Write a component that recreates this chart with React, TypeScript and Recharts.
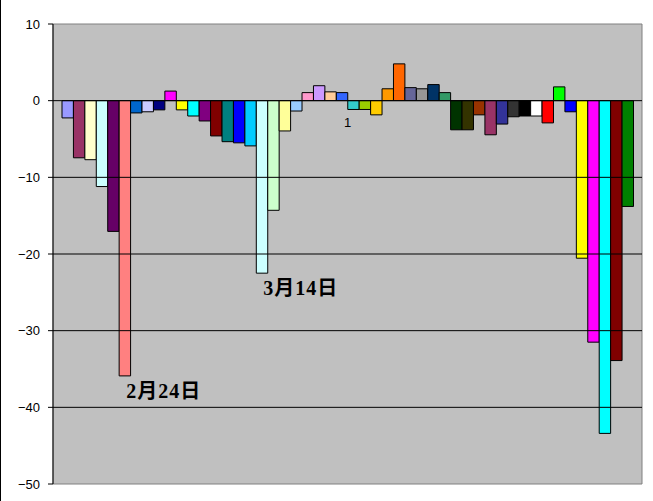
import React from "react";
import {
  BarChart,
  Bar,
  YAxis,
  XAxis,
  CartesianGrid,
  ReferenceLine,
  ReferenceArea,
  LabelList,
} from "recharts";

// one category, 50 series (one bar each)
const categories = ["1"];

const seriesValues = [
  -2.25, -7.45, -7.7, -11.2, -17.05, -35.9, -1.6, -1.45, -1.2, 1.25,
  -1.2, -2.0, -2.65, -4.6, -5.35, -5.5, -5.9, -22.5, -14.3, -3.95,
  -1.35, 1.05, 1.95, 1.15, 1.05, -1.15, -1.15, -1.85, 1.55, 4.8,
  1.7, 1.55, 2.1, 1.05, -3.8, -3.8, -1.85, -4.45, -3.05, -2.1,
  -2.0, -2.0, -2.9, 1.8, -1.45, -20.55, -31.5, -43.4, -33.9, -13.8,
];

const seriesColors = [
  "#9999FF", "#993366", "#FFFFCC", "#CCFFFF", "#660066", "#FF8080", "#0066CC", "#CCCCFF", "#000080", "#FF00FF",
  "#FFFF00", "#00FFFF", "#800080", "#800000", "#008080", "#0000FF", "#00CCFF", "#CCFFFF", "#CCFFCC", "#FFFF99",
  "#99CCFF", "#FF99CC", "#CC99FF", "#FFCC99", "#3366FF", "#33CCCC", "#99CC00", "#FFCC00", "#FF9900", "#FF6600",
  "#666699", "#969696", "#003366", "#339966", "#003300", "#333300", "#993300", "#993366", "#333399", "#333333",
  "#000000", "#FFFFFF", "#FF0000", "#00FF00", "#0000FF", "#FFFF00", "#FF00FF", "#00FFFF", "#800000", "#008000",
];

const yTicks = [10, 0, -10, -20, -30, -40, -50];
const gridValues = [0, -10, -20, -30, -40];

// date notes under the two big drops
const notes: { [k: number]: string } = { 5: "2月24日", 17: "3月14日" };

const data = categories.map((name) => {
  const row: any = { name };
  seriesValues.forEach((v, i) => {
    row[`s${i + 1}`] = v;
  });
  return row;
});

const NoteLabel = (text: string) => (props: any) => {
  const { x, y, height } = props;
  const bottom = Math.max(y, y + height);
  return (
    <text
      x={x + 7}
      y={bottom + 22}
      fill="#000"
      fontSize={20}
      fontWeight="bold"
      letterSpacing={1}
      fontFamily="'Liberation Serif', 'Noto Sans CJK JP', serif"
    >
      {text}
    </text>
  );
};

export default function App() {
  return (
    <div
      style={{
        position: "absolute",
        left: 0,
        top: 0,
        width: 653,
        height: 501,
        background: "#fff",
      }}
    >
      <div
        style={{ position: "absolute", left: 0, top: 0, width: 1, height: 501, background: "#000" }}
      />
      <BarChart
        width={653}
        height={501}
        data={data}
        margin={{ top: 24, right: 11, bottom: 17, left: 0 }}
        barSize={11.43}
        barGap={0}
        style={{ fontFamily: "'Liberation Sans', Arial, sans-serif" }}
      >
        <CartesianGrid fill="#C0C0C0" horizontal={false} vertical={false} />
        <ReferenceArea y1={-50} y2={10} fill="none" stroke="#808080" strokeWidth={1} />
        {gridValues.map((v) => (
          <ReferenceLine
            key={v}
            y={v}
            stroke="#000"
            strokeWidth={1}
            label={v === 0 ? { value: categories[0], position: "bottom", offset: 17, fill: "#000", fontSize: 13 } : undefined}
          />
        ))}
        <XAxis dataKey="name" hide />
        <YAxis
          width={53}
          domain={[-50, 10]}
          ticks={yTicks}
          interval={0}
          tickFormatter={(v: number) => String(v).replace("-", "\u2212")}
          tick={{ fill: "#000", fontSize: 13 }}
          tickSize={5}
          tickMargin={8}
          tickLine={{ stroke: "#000" }}
          axisLine={{ stroke: "#000" }}
        />
        {seriesValues.map((_, i) => (
          <Bar
            key={i}
            dataKey={`s${i + 1}`}
            fill={seriesColors[i]}
            stroke="#000"
            strokeWidth={1}
            isAnimationActive={false}
          >
            {notes[i] && <LabelList dataKey={`s${i + 1}`} content={NoteLabel(notes[i])} />}
          </Bar>
        ))}
      </BarChart>
    </div>
  );
}
